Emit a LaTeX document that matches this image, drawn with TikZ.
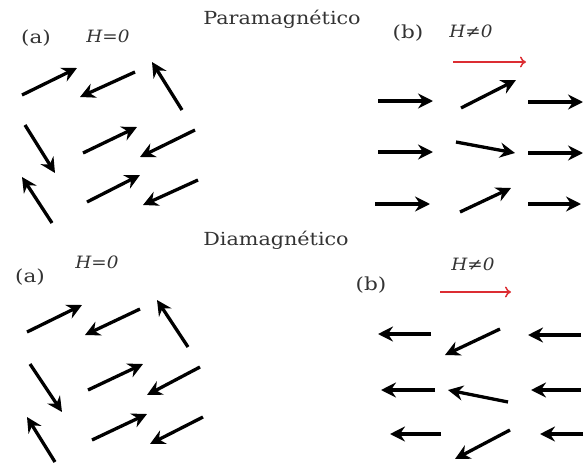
\documentclass[tikz,border=0pt]{standalone}
\usepackage{fontspec}
\setmainfont{DejaVu Serif}
\usetikzlibrary{arrows.meta}
\begin{document}
\begin{tikzpicture}[x=1pt,y=-1pt,
  spin/.style={line width=3.3pt,-{Stealth[length=15pt,width=15pt,inset=5pt]}},
  field/.style={line width=1.5pt,draw={rgb,255:red,220;green,45;blue,50},-{To[length=6pt,width=11pt]}},
  title/.style={font=\fontsize{18}{20}\selectfont,xscale=1.15,text=black!80,inner sep=0pt},
  lab/.style={font=\fontsize{18}{20}\selectfont,xscale=1.2,text=black!80,inner sep=0pt},
  hlab/.style={font=\fontsize{17}{20}\selectfont\itshape,xscale=1.08,text=black!80,inner sep=0pt}]
\useasboundingbox (0,0) rectangle (586,463);
% titles
\node[title] (tpara) at (282,19) {Paramagnético};
\node[title] (tdia) at (276,240) {Diamagnético};
% labels paramagnetic
\node[lab] (pa) at (36,38) {(a)};
\node[hlab] (pah) at (108,36) {H=0};
\node[lab] (pb) at (408,33) {(b)};
\node[hlab] (pbh) at (471,31) {H≠0};
% labels diamagnetic
\node[hlab] (dah) at (97,262) {H=0};
\node[lab] (da) at (30,277) {(a)};
\node[lab] (db) at (371,285) {(b)};
\node[hlab] (dbh) at (473,264) {H≠0};
% field arrows
\draw[field] (453,62) -- (526,62);
\draw[field] (440,292) -- (511,292);
% paramagnetic (a)
\draw[spin] (22,95) -- (77,68);
\draw[spin] (135,72) -- (80,97);
\draw[spin] (182,110) -- (152,62);
\draw[spin] (25,125) -- (55,173);
\draw[spin] (83,153) -- (137,127);
\draw[spin] (195,130) -- (140,157);
\draw[spin] (52,223) -- (22,177);
\draw[spin] (87,202) -- (140,175);
\draw[spin] (198,180) -- (143,205);
% paramagnetic (b)
\draw[spin] (378,101) -- (433,101);
\draw[spin] (461,108) -- (516,80);
\draw[spin] (528,102) -- (583,102);
\draw[spin] (378,152) -- (433,152);
\draw[spin] (456,142) -- (515,153);
\draw[spin] (528,153) -- (583,153);
\draw[spin] (375,204) -- (430,204);
\draw[spin] (460,212) -- (511,188);
\draw[spin] (528,204) -- (581,204);
% diamagnetic (a)
\draw[spin] (27,332) -- (82,305);
\draw[spin] (140,309) -- (85,335);
\draw[spin] (188,347) -- (157,300);
\draw[spin] (30,364) -- (62,412);
\draw[spin] (88,390) -- (143,364);
\draw[spin] (200,367) -- (147,395);
\draw[spin] (55,462) -- (27,417);
\draw[spin] (92,440) -- (147,414);
\draw[spin] (203,417) -- (150,444);
% diamagnetic (b)
\draw[spin] (431,334) -- (378,334);
\draw[spin] (500,329) -- (445,355);
\draw[spin] (581,335) -- (528,335);
\draw[spin] (435,390) -- (381,390);
\draw[spin] (508,402) -- (448,390);
\draw[spin] (581,390) -- (531,390);
\draw[spin] (441,434) -- (390,434);
\draw[spin] (510,430) -- (455,459);
\draw[spin] (583,434) -- (540,434);
\end{tikzpicture}
\end{document}
